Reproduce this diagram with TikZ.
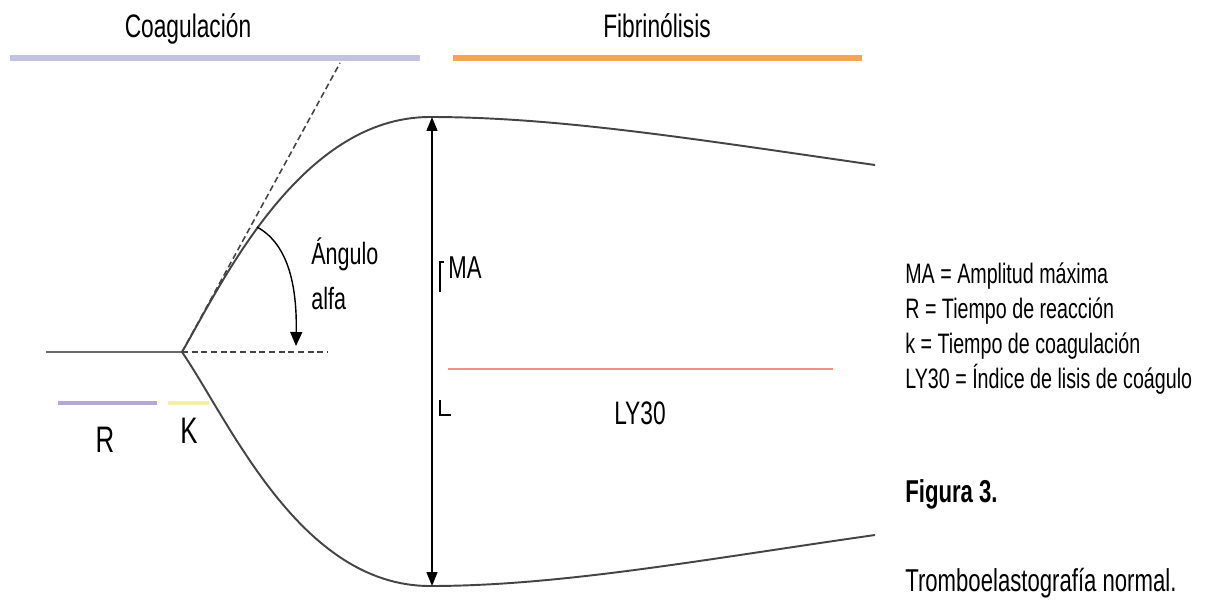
\documentclass[tikz,border=0pt]{standalone}
\usepackage{fontspec}
\setmainfont{Liberation Sans}[FakeStretch=0.7]
\usepackage{xcolor}
\usetikzlibrary{arrows.meta,positioning}
\definecolor{coagBar}{HTML}{C4C2E2}
\definecolor{fibrBar}{HTML}{F2A552}
\definecolor{lysisRed}{HTML}{F0908C}
\definecolor{rBar}{HTML}{B4A8D8}
\definecolor{kBar}{HTML}{F3F0A2}
\definecolor{traceGray}{HTML}{444444}

\begin{document}
\begin{tikzpicture}[x=0.02cm,y=-0.02cm,font=\fontsize{18.5}{22}\selectfont,
    trace/.style={draw=traceGray,line width=1.1pt},
    guide/.style={draw=traceGray,line width=0.9pt,dash pattern=on 3.5pt off 2pt},
    tip/.style={-{Triangle[length=0.28cm,width=0.24cm]}},
    legline/.style={anchor=base west,inner sep=0pt,font=\fontsize{16}{20}\selectfont}]
  \useasboundingbox (0,0) rectangle (1205,602);
  % phase bars
  \draw[coagBar,line width=3.4pt] (10,58) -- (420,58);
  \draw[fibrBar,line width=3.4pt] (453,58) -- (862,58);
  \node[anchor=base,inner sep=0pt] (coag) at (188,37) {Coagulación};
  \node[anchor=base,inner sep=0pt] (fibr) at (657,37) {Fibrinólisis};
  % trace
  \coordinate (split) at (182,352);
  \coordinate (peak) at (430,117);
  \coordinate (trough) at (430,586);
  \draw[traceGray!80,line width=1.5pt] (46,352) -- (split);
  \draw[trace] (split) .. controls (222,283) and (300,117) .. (peak)
    .. controls (560,117) and (700,140) .. (875,165);
  \draw[trace] (split) .. controls (230,422) and (300,586) .. (trough)
    .. controls (560,586) and (700,560) .. (875,535);
  \draw[guide] (split) -- (340,63);
  \draw[guide] (split) -- (328,352);
  \draw[tip,line width=0.8pt] (257,227) .. controls (290,245) and (297,290) .. (296,346);
  \node[anchor=base west,inner sep=0pt,font=\fontsize{17.5}{22}\selectfont] (angle) at (311,264) {Ángulo};
  \node[anchor=base west,inner sep=0pt,font=\fontsize{17.5}{22}\selectfont] (alfa) at (311,309) {alfa};
  % amplitude
  \draw[{Triangle[length=0.28cm,width=0.22cm]}-{Triangle[length=0.28cm,width=0.22cm]},line width=0.8pt]
    (432,117) -- (432,586);
  \draw[line width=0.6pt] (444,262) -- (440,262) -- (440,292);
  \draw[line width=0.6pt] (440,400) -- (440,415) -- (451,415);
  \node[anchor=base west,inner sep=0pt,font=\fontsize{18}{22}\selectfont] (ma) at (448,278) {MA};
  \draw[lysisRed,line width=1.7pt] (448,369) -- (833,369);
  \node[anchor=base,inner sep=0pt] (ly) at (640,424) {LY30};
  % R and K
  \draw[rBar,line width=2.2pt] (58,403) -- (157,403);
  \draw[kBar,line width=2.2pt] (168,403) -- (209,403);
  \node[anchor=base,inner sep=0pt,font=\fontsize{21}{24}\selectfont] (rlab) at (105,452) {R};
  \node[anchor=base,inner sep=0pt,font=\fontsize{21}{24}\selectfont] (klab) at (189,443) {K};
  % legend
  \node[legline] (lgma) at (905,283) {MA = Amplitud máxima};
  \node[legline] (lgr) at (905,318) {R = Tiempo de reacción};
  \node[legline] (lgk) at (905,353) {k = Tiempo de coagulación};
  \node[legline] (lgly) at (905,388) {LY30 = Índice de lisis de coágulo};
  \node[anchor=base west,inner sep=0pt,font=\fontsize{18}{22}\selectfont\bfseries] (fig) at (905,502) {Figura 3.};
  \node[anchor=base west,inner sep=0pt,font=\fontsize{18}{22}\selectfont] (caption) at (905,591) {Tromboelastografía normal.};
\end{tikzpicture}
\end{document}
